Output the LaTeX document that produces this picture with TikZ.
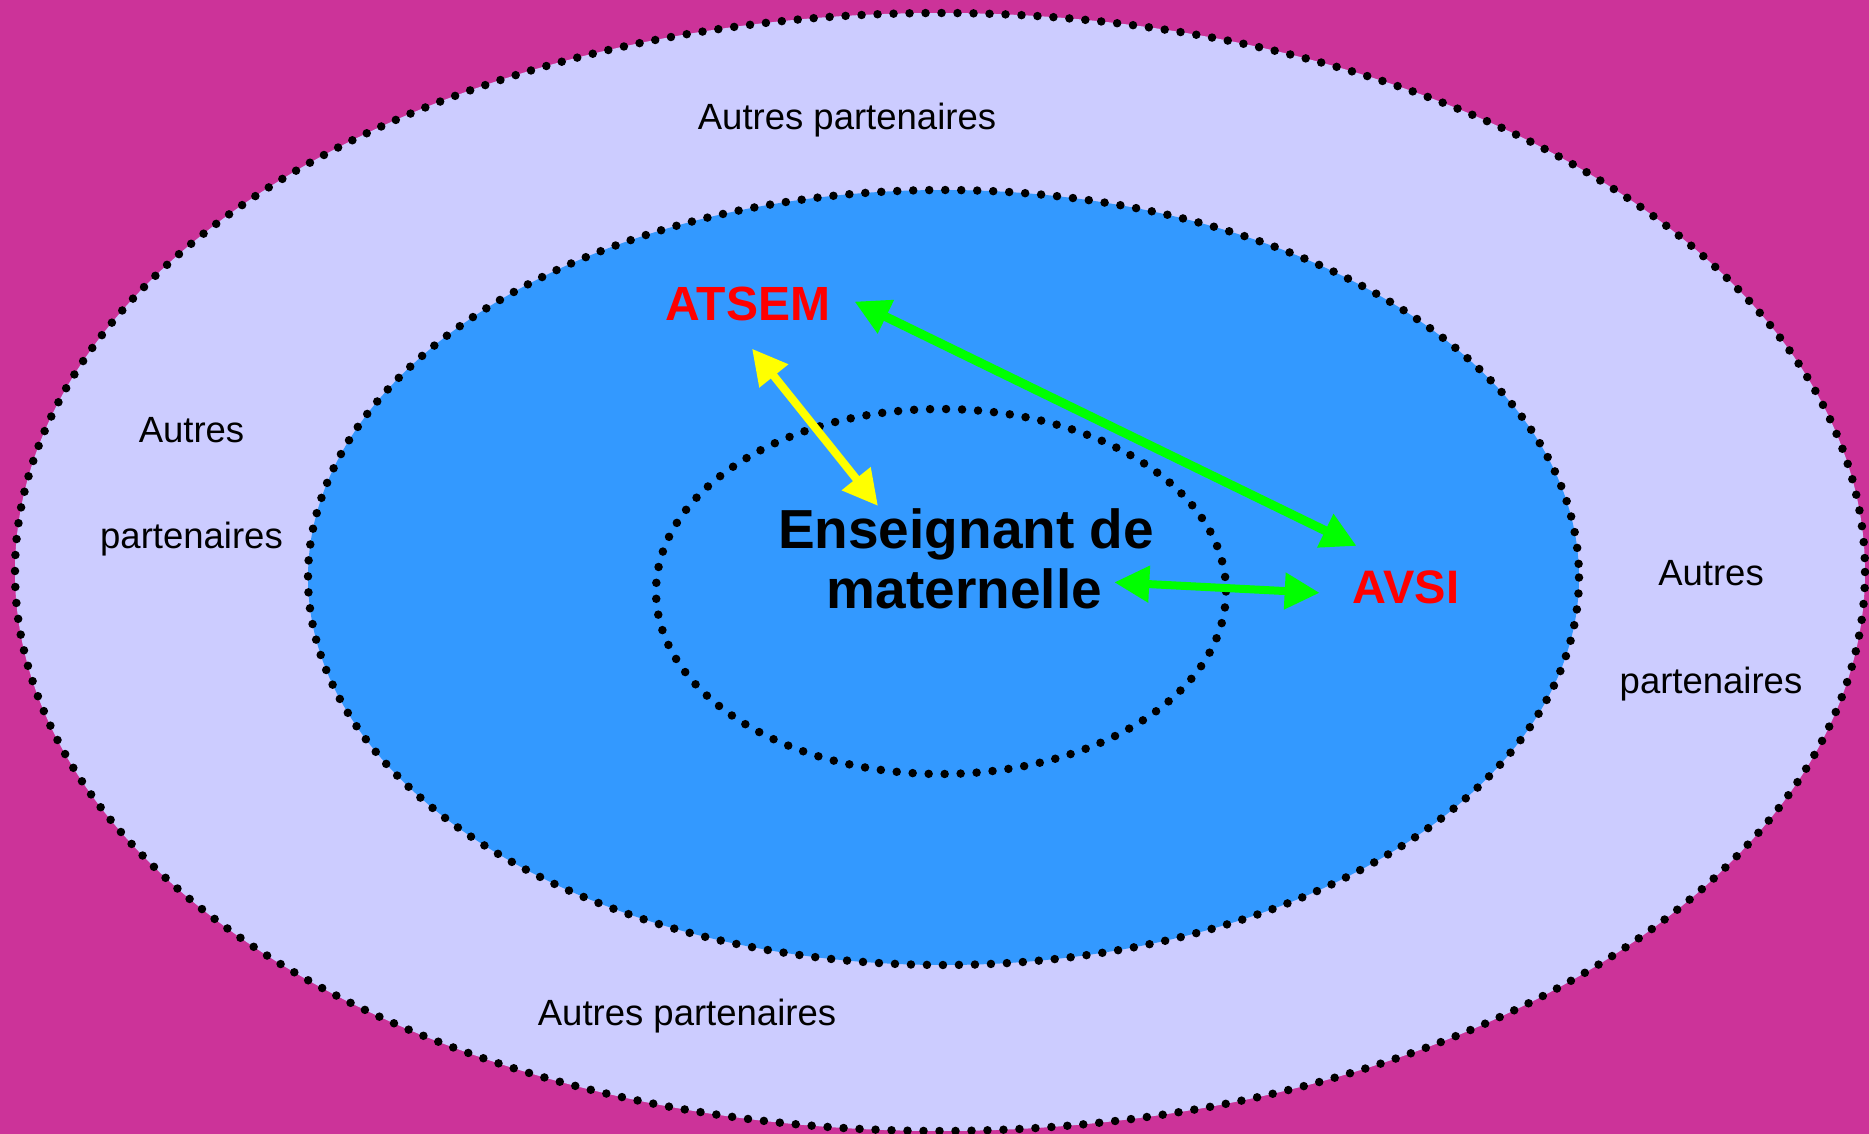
\documentclass[tikz,border=0pt]{standalone}
\usepackage{fontspec}
\setmainfont{Liberation Sans}
\usetikzlibrary{arrows.meta,calc}
\definecolor{bgmag}{RGB}{204,51,153}
\definecolor{lav}{RGB}{204,204,255}
\definecolor{midblue}{RGB}{51,153,255}
\definecolor{agreen}{RGB}{0,255,0}
\definecolor{ayellow}{RGB}{255,255,0}
\definecolor{ared}{RGB}{255,0,0}
\begin{document}
\begin{tikzpicture}[x=1pt,y=-1pt,
  ring/.style={draw=black,line width=8.5pt,line cap=round,dash pattern=on 0pt off 16pt},
  partner/.style={inner sep=0pt,anchor=base,font=\fontsize{36.5}{44}\selectfont},
  role/.style={inner sep=0pt,anchor=base,text=ared,font=\fontsize{48}{56}\selectfont\bfseries},
  teacher/.style={inner sep=0pt,anchor=base,font=\fontsize{55}{60}\selectfont\bfseries},
  link/.style={line width=9pt,{Triangle[length=35pt,width=35pt]}-{Triangle[length=35pt,width=35pt]}}]
\useasboundingbox (0,0) rectangle (1869,1134);
\fill[bgmag] (0,0) rectangle (1869,1134);
% rings
\path[ring,fill=lav] (940,572) ellipse [x radius=925, y radius=559];
\path[ring,fill=midblue] (943.5,577.5) ellipse [x radius=635.5, y radius=387.5];
\path[ring] (941,591.5) ellipse [x radius=285, y radius=182.5];
% partner labels
\node[partner] (ptop) at (847,130) {Autres partenaires};
\node[partner] (pleft1) at (191.5,442) {Autres};
\node[partner] (pleft2) at (191.5,548) {partenaires};
\node[partner] (pright1) at (1711,585) {Autres};
\node[partner] (pright2) at (1711,693) {partenaires};
\node[partner] (pbot) at (687,1025) {Autres partenaires};
% roles
\node[role] (atsem) at (748,320) {ATSEM};
\node[role,font=\fontsize{47}{56}\selectfont\bfseries] (avsi) at (1406,603) {AVSI};
\node[teacher] (ens1) at (966,548) {Enseignant de};
\node[teacher] (ens2) at (964.5,608) {maternelle};
% links
\draw[link,agreen] ($(atsem.east)+(24,-2)$) -- ($(avsi.north west)+(4,-24)$);
\draw[link,agreen,line width=8pt] ($(ens2.east)+(12,-6)$) -- ($(avsi.west)+(-33,6)$);
\draw[link,ayellow,line width=8pt] ($(atsem.south)+(4,28)$) -- ($(ens1.north)+(-88,-2)$);
\end{tikzpicture}
\end{document}
